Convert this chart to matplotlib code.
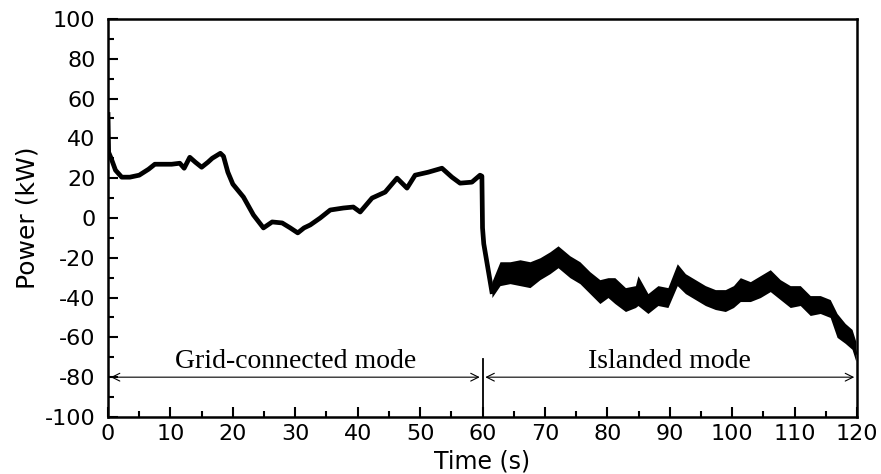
import numpy as np
import matplotlib
matplotlib.use('Agg')
import matplotlib.pyplot as plt

# grid-connected part (0-60 s)
t_grid = [0, 0.1, 0.5, 1.2, 2.2, 3.5, 5, 6.5, 7.5, 9, 10.2, 11.5, 12.2, 13.1, 14, 15,
          16, 16.7, 18, 18.5, 19.2, 20, 21.7, 23.3, 24.9, 26.3, 27.9, 29.2, 30.4, 31.4,
          32.4, 34, 35.6, 37.7, 39.3, 40.4, 42.3, 44.4, 46.3, 47.9, 49.2, 51.3, 53.5,
          55.1, 56.4, 58.3, 59.6, 59.9, 60.0, 60.2, 61.5]
p_grid = [52, 33, 30, 24, 20.5, 20.5, 21.5, 24.5, 27, 27, 27, 27.5, 25, 30.5, 28, 25.5,
          28, 30, 32.5, 31, 23, 17, 10.5, 1.5, -5, -2, -2.5, -5, -7.5, -5,
          -3.5, 0, 4, 5, 5.5, 3, 10, 13, 20, 15, 21.5, 23, 25,
          20.5, 17.5, 18, 21.5, 21, -5, -13, -37]

# islanded part (61.5-120 s): centre and noise envelope
t_isl = [61.5, 62.8, 64.4, 66, 67.6, 69.2, 70.8, 72.1, 74, 75.6, 77.2, 78.8, 80.1, 81.2,
         82.9, 84.5, 84.9, 86.5, 88.1, 89.7, 91.2, 92.5, 94.1, 95.7, 97.3, 98.9, 100.2,
         101.3, 102.9, 104.5, 106.1, 107.7, 109.3, 110.9, 112.5, 114.1, 115.7, 116.8,
         118.1, 119.2, 119.8]
p_isl = [-36, -28, -28, -28, -28, -26, -23, -19, -24, -28, -32, -37, -35, -37,
         -41, -40, -38, -43, -39, -39, -29, -33, -36, -39, -41, -41, -40,
         -36, -37, -35, -31, -36, -39, -39, -44, -44, -46, -54,
         -58, -61, -68]
p_isl_hi = [-32, -22, -22, -21, -22, -20, -17, -14, -19, -22, -27, -31, -30, -30,
            -35, -34, -29, -38, -34, -35, -23, -28, -31, -34, -36, -36, -34,
            -30, -32, -29, -26, -31, -34, -34, -39, -39, -41, -48,
            -53, -56, -62]
p_isl_lo = [-40, -34, -33, -34, -35, -31, -28, -25, -30, -33, -38, -43, -40, -43,
            -47, -45, -44, -48, -44, -45, -34, -38, -41, -44, -46, -47, -45,
            -42, -42, -40, -37, -41, -45, -44, -49, -48, -50, -60,
            -63, -66, -72]

xticks = list(range(0, 121, 10))
yticks = list(range(-100, 101, 20))

plt.rcParams['font.family'] = 'DejaVu Sans'
plt.rcParams['axes.unicode_minus'] = False

fig = plt.figure(figsize=(8.81, 4.74), dpi=100)
ax = fig.add_axes([0.1226, 0.1203, 0.8502, 0.8397])

ax.plot(t_grid, p_grid, color='k', lw=3.4, solid_joinstyle='round')
ax.fill_between(t_isl, p_isl_lo, p_isl_hi, color='k', lw=0)
ax.plot(t_isl, p_isl, color='k', lw=2)

# mode annotations
ax.plot([60, 60], [-100, -71], color='k', lw=1.3)
ax.annotate('', xy=(0, -80), xytext=(60, -80),
            arrowprops=dict(arrowstyle='<->', lw=0.8, color='k', mutation_scale=14))
ax.annotate('', xy=(60, -80), xytext=(120, -80),
            arrowprops=dict(arrowstyle='<->', lw=0.8, color='k', mutation_scale=14))
ax.text(30, -72, 'Grid-connected mode', ha='center', va='center',
        family='Liberation Serif', fontsize=20)
ax.text(90, -72, 'Islanded mode', ha='center', va='center',
        family='Liberation Serif', fontsize=20)

ax.set_xlim(0, 120)
ax.set_ylim(-100, 100)
ax.set_xticks(xticks)
ax.set_yticks(yticks)
ax.set_xticks(np.arange(5, 120, 10), minor=True)
ax.set_yticks(np.arange(-90, 100, 20), minor=True)
ax.tick_params(which='both', direction='in', top=False, right=False, labelsize=16, width=1.5)
ax.tick_params(which='major', length=7)
ax.tick_params(which='minor', length=4)
ax.tick_params(axis='y', pad=9)
ax.tick_params(axis='x', pad=5)
for s in ax.spines.values():
    s.set_linewidth(1.8)

ax.set_xlabel('Time (s)', fontsize=17, labelpad=4)
ax.set_ylabel('Power (kW)', fontsize=18, labelpad=4)

fig.savefig('out.png', dpi=100)
